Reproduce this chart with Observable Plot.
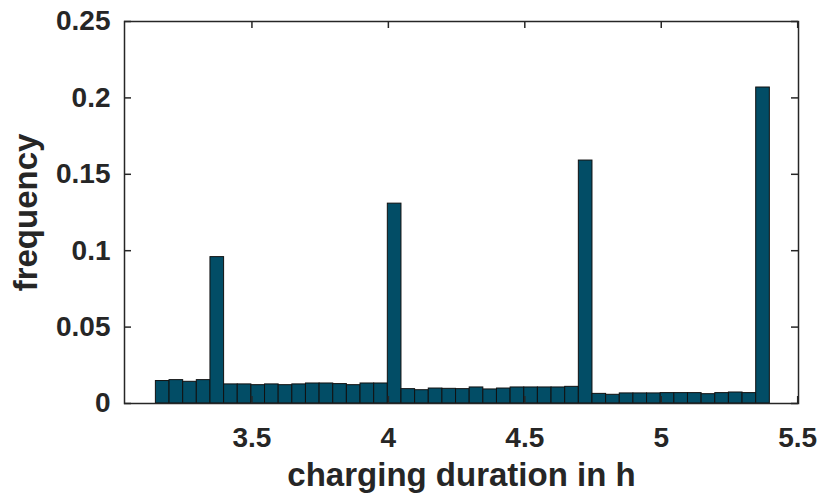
<!DOCTYPE html>
<html>
<head>
<meta charset="utf-8">
<script src="https://cdn.jsdelivr.net/npm/d3@7"></script>
<script src="https://cdn.jsdelivr.net/npm/@observablehq/plot@0.6"></script>
<style>
  html, body { margin: 0; padding: 0; background: #fff; }
  #chart { width: 817px; height: 494px; }
</style>
</head>
<body>
<div id="chart"></div>
<script>
// Histogram of charging durations (bins of 0.05 h)
const binStart = 3.148;
const binWidth = 0.05;
const frequencies = [
  0.0147, 0.0153, 0.0142, 0.0153, 0.0958, 0.0125, 0.0125, 0.0120, 0.0125, 0.0120,
  0.0125, 0.0131, 0.0131, 0.0127, 0.0120, 0.0131, 0.0131, 0.1308, 0.0094, 0.0087,
  0.0098, 0.0096, 0.0094, 0.0105, 0.0092, 0.0098, 0.0105, 0.0105, 0.0105, 0.0105,
  0.0109, 0.1590, 0.0063, 0.0057, 0.0066, 0.0066, 0.0066, 0.0068, 0.0068, 0.0068,
  0.0061, 0.0068, 0.0072, 0.0068, 0.2068
];
const xTicks = [3.5, 4, 4.5, 5, 5.5];
const yTicks = [0, 0.05, 0.1, 0.15, 0.2, 0.25];
const xDomain = [3.033, 5.503];
const yDomain = [0, 0.25];

const bins = frequencies.map((f, i) => ({
  x1: binStart + i * binWidth,
  x2: binStart + (i + 1) * binWidth,
  f
}));

const W = 817, H = 494;
const mL = 124, mR = 19, mT = 21, mB = 91;
const plotH = H - mT - mB;
const plotW = W - mL - mR;
const tickLen = 7;
const ink = "#262626";
const font = "'Liberation Sans', Arial, Helvetica, sans-serif";

const chart = Plot.plot({
  width: W,
  height: H,
  marginLeft: mL,
  marginRight: mR,
  marginTop: mT,
  marginBottom: mB,
  style: { fontFamily: font, fontWeight: "bold", fontSize: "28px", color: ink, background: "#fff" },
  x: { domain: xDomain },
  y: { domain: yDomain },
  marks: [
    Plot.rectY(bins, { x1: "x1", x2: "x2", y: "f", fill: "#024d66", stroke: "#111", strokeWidth: 1, inset: 0 }),
    Plot.frame({ stroke: ink, strokeWidth: 1.5 }),
    Plot.tickX(xTicks, { x: d => d, stroke: ink, strokeWidth: 1.5, insetTop: plotH - tickLen }),
    Plot.tickX(xTicks, { x: d => d, stroke: ink, strokeWidth: 1.5, insetBottom: plotH - tickLen }),
    Plot.tickY(yTicks, { y: d => d, stroke: ink, strokeWidth: 1.5, insetRight: plotW - tickLen }),
    Plot.tickY(yTicks, { y: d => d, stroke: ink, strokeWidth: 1.5, insetLeft: plotW - tickLen }),
    Plot.axisX({ ticks: xTicks, tickSize: 0, tickPadding: 24, tickFormat: d => String(d),
      label: "charging duration in h", labelAnchor: "center", labelArrow: "none", labelOffset: 82, fontSize: 28 }),
    Plot.axisY({ ticks: yTicks, tickSize: 0, tickPadding: 14, tickFormat: d => String(d),
      label: "frequency", labelAnchor: "center", labelArrow: "none", labelOffset: 111, fontSize: 28 })
  ]
});
document.getElementById("chart").appendChild(chart);
// Axis titles are larger than tick labels
chart.querySelectorAll("g[aria-label='x-axis label'] text, g[aria-label='y-axis label'] text").forEach(t => {
  t.setAttribute("font-size", "33");
});
</script>
</body>
</html>
